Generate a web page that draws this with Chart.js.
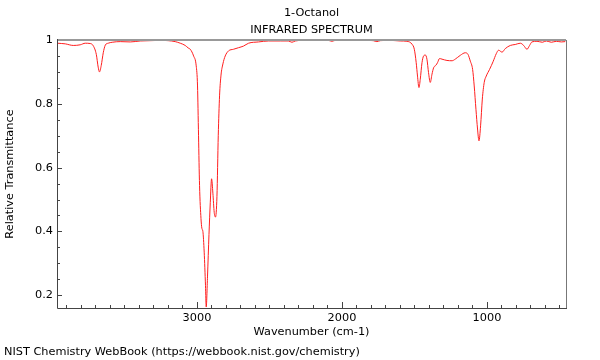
<!DOCTYPE html>
<html>
<head>
<meta charset="utf-8">
<script src="https://cdn.jsdelivr.net/npm/chart.js@4.4.1/dist/chart.umd.min.js"></script>
<style>
  body { margin: 0; background: #fff; }
  #wrap { position: relative; width: 600px; height: 360px; }
  #fuente {
    position: absolute; left: 4px; top: 345px;
    font-family: "DejaVu Sans", sans-serif; font-size: 11.3px; color: #000;
    white-space: nowrap;
  }
</style>
</head>
<body>
<div id="wrap">
  <canvas id="irChart" width="600" height="360"></canvas>
  <div id="fuente">NIST Chemistry WebBook (https://webbook.nist.gov/chemistry)</div>
</div>
<script>
const wavenumbers = [
  3963, 3908, 3853, 3805, 3770, 3736, 3715, 3694, 3681, 3672, 3660, 3646, 3632, 3612,
  3584, 3529, 3460, 3391, 3322, 3253, 3198, 3150, 3115, 3081, 3060, 3046, 3023, 3005,
  2996, 2989, 2982, 2972, 2966, 2959, 2950, 2941, 2936, 2927, 2917, 2908, 2899, 2890,
  2881, 2872, 2862, 2853, 2844, 2834, 2821, 2805, 2782, 2748, 2713, 2679, 2644, 2575,
  2506, 2425, 2370, 2345, 2322, 2276, 2184, 2094, 2069, 2046, 1943, 1839, 1784, 1759,
  1736, 1667, 1598, 1552, 1517, 1501, 1488, 1479, 1469, 1460, 1448, 1437, 1425, 1414,
  1403, 1391, 1379, 1368, 1352, 1341, 1327, 1310, 1276, 1241, 1219, 1184, 1150, 1131,
  1115, 1099, 1088, 1076, 1065, 1055, 1044, 1032, 1019, 1005, 982, 958, 936, 920,
  896, 874, 839, 805, 770, 747, 724, 706, 690, 655, 618, 591, 556, 522, 487, 460
];
const transmittance = [
  0.990, 0.988, 0.983, 0.985, 0.990, 0.989, 0.982, 0.955, 0.915, 0.900, 0.920, 0.960, 0.984, 0.990,
  0.993, 0.995, 0.994, 0.997, 0.998, 0.999, 0.998, 0.995, 0.990, 0.983, 0.975, 0.971, 0.950, 0.919,
  0.856, 0.700, 0.544, 0.440, 0.410, 0.400, 0.335, 0.230, 0.163, 0.260, 0.390, 0.490, 0.565, 0.520,
  0.460, 0.445, 0.510, 0.700, 0.825, 0.890, 0.925, 0.950, 0.966, 0.971, 0.976, 0.981, 0.990, 0.994,
  0.997, 0.997, 0.997, 0.993, 0.997, 0.999, 1.000, 0.999, 0.996, 0.999, 1.000, 0.999, 0.998, 0.995,
  0.998, 0.999, 0.997, 0.996, 0.987, 0.971, 0.929, 0.887, 0.851, 0.877, 0.929, 0.950, 0.953, 0.940,
  0.898, 0.867, 0.893, 0.913, 0.921, 0.929, 0.942, 0.940, 0.936, 0.935, 0.940, 0.952, 0.960, 0.955,
  0.934, 0.908, 0.856, 0.783, 0.721, 0.684, 0.731, 0.815, 0.867, 0.887, 0.908, 0.932, 0.957, 0.968,
  0.962, 0.973, 0.983, 0.986, 0.990, 0.983, 0.971, 0.983, 0.994, 0.996, 0.993, 0.997, 0.993, 0.996, 0.994, 0.995
];

// Marcas de los ejes
const xMajorTicks = [1000, 2000, 3000];
const yMajorTicks = [0.2, 0.4, 0.6, 0.8, 1.0];
const xMinorTicks = [];
for (let w = 500; w <= 3900; w += 100) {
  if (w % 1000 !== 0) xMinorTicks.push(w);
}
const yMinorTicks = [0.25, 0.3, 0.35, 0.45, 0.5, 0.55, 0.65, 0.7, 0.75, 0.85, 0.9, 0.95];

// Límites de los ejes
const xMin = 455;
const xMax = 3965;
const yMin = 0.16;
const yMax = 1.0;

Chart.defaults.font.family = '"DejaVu Sans", sans-serif';
Chart.defaults.font.size = 11.3;
Chart.defaults.color = '#000';

function ticksFrom(major, minor) {
  return major.map(v => ({ value: v, major: true }))
    .concat(minor.map(v => ({ value: v, major: false })))
    .sort((a, b) => a.value - b.value);
}

// Marco y marcas hacia adentro (estilo NIST)
const marcoPlugin = {
  id: 'marco',
  afterDraw(chart) {
    const ctx = chart.ctx;
    const a = chart.chartArea;
    const xs = chart.scales.x;
    const ys = chart.scales.y;
    ctx.save();
    ctx.lineWidth = 1;
    ctx.strokeStyle = '#444';
    xs.ticks.forEach(t => {
      const px = Math.round(xs.getPixelForValue(t.value)) + 0.5;
      const len = t.major ? 6 : 3;
      ctx.beginPath();
      ctx.moveTo(px, a.bottom);
      ctx.lineTo(px, a.bottom - len);
      ctx.stroke();
    });
    ys.ticks.forEach(t => {
      const py = Math.round(ys.getPixelForValue(t.value)) + 0.5;
      const len = t.major ? 5 : 3;
      ctx.beginPath();
      ctx.moveTo(a.left, py);
      ctx.lineTo(a.left + len, py);
      ctx.stroke();
    });
    // borde superior y derecho
    ctx.strokeStyle = '#999';
    ctx.lineWidth = 2;
    ctx.beginPath();
    ctx.moveTo(a.left, a.top);
    ctx.lineTo(a.right, a.top);
    ctx.stroke();
    ctx.lineWidth = 1;
    ctx.strokeStyle = '#777';
    ctx.beginPath();
    ctx.moveTo(Math.round(a.right) + 0.5, a.top);
    ctx.lineTo(Math.round(a.right) + 0.5, a.bottom);
    ctx.stroke();
    // ejes izquierdo e inferior
    ctx.strokeStyle = '#444';
    ctx.beginPath();
    ctx.moveTo(Math.round(a.left) + 0.5, a.top - 1);
    ctx.lineTo(Math.round(a.left) + 0.5, Math.round(a.bottom) + 0.5);
    ctx.lineTo(a.right + 1, Math.round(a.bottom) + 0.5);
    ctx.stroke();
    ctx.restore();
  }
};

const canvas = document.getElementById('irChart');
const chart = new Chart(canvas.getContext('2d'), {
  type: 'line',
  data: {
    datasets: [{
      label: '1-Octanol',
      data: wavenumbers.map((w, i) => ({ x: w, y: transmittance[i] })),
      borderColor: 'rgb(255, 30, 30)',
      borderWidth: 1,
      pointRadius: 0,
      fill: false,
      cubicInterpolationMode: 'monotone'
    }]
  },
  options: {
    responsive: false,
    animation: false,
    layout: {
      padding: { left: 0, right: 34, top: 6, bottom: 20 }
    },
    plugins: {
      legend: { display: false },
      tooltip: { enabled: false },
      title: {
        display: true,
        text: '1-Octanol',
        fullSize: false,
        font: { size: 11.3, weight: 'normal' },
        color: '#000',
        padding: { top: 0, bottom: 3.5 }
      },
      subtitle: {
        display: true,
        text: 'INFRARED SPECTRUM',
        fullSize: false,
        font: { size: 11.3, weight: 'normal' },
        color: '#000',
        padding: { top: 0, bottom: 3.4 }
      }
    },
    scales: {
      x: {
        type: 'linear',
        reverse: true,
        min: xMin,
        max: xMax,
        grid: { display: false, drawTicks: false },
        border: { display: false },
        afterBuildTicks: function(scale) {
          scale.ticks = ticksFrom(xMajorTicks, xMinorTicks);
        },
        ticks: {
          autoSkip: false,
          maxRotation: 0,
          padding: 3.5,
          callback: function(value, index, ticks) {
            return ticks[index].major ? String(value) : '';
          }
        },
        title: {
          display: true,
          text: 'Wavenumber (cm-1)',
          padding: { top: 0, bottom: 1.2 }
        },
        afterFit: function(scale) { scale.height = 32; }
      },
      y: {
        type: 'linear',
        min: yMin,
        max: yMax,
        grid: { display: false, drawTicks: false },
        border: { display: false },
        afterBuildTicks: function(scale) {
          scale.ticks = ticksFrom(yMajorTicks, yMinorTicks);
        },
        ticks: {
          autoSkip: false,
          padding: 4,
          callback: function(value, index, ticks) {
            return ticks[index].major ? String(Math.round(value * 10) / 10) : '';
          }
        },
        title: {
          display: true,
          text: 'Relative Transmittance',
          padding: { top: 3.7, bottom: 0 }
        },
        afterFit: function(scale) { scale.width = 57; }
      }
    }
  },
  plugins: [marcoPlugin]
});
</script>
</body>
</html>
